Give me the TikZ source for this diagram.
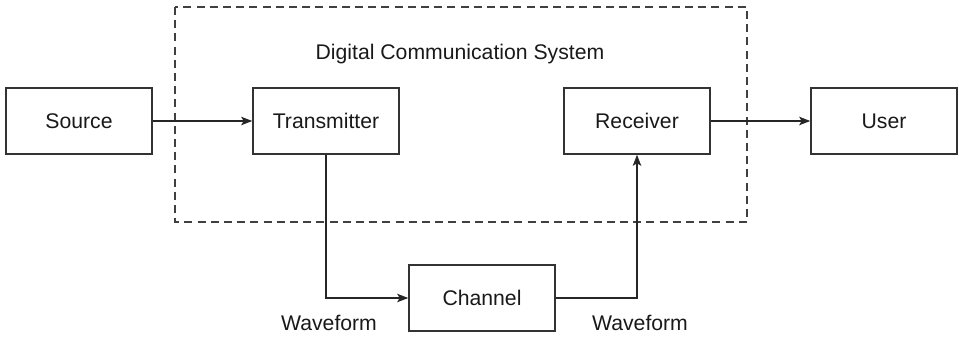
\documentclass[tikz,border=0pt]{standalone}
\usepackage{fontspec}
\setmainfont{Liberation Sans}
\usetikzlibrary{arrows.meta}
\tikzset{
	block/.style={draw=black!80, line width=0.75pt, minimum width=73pt, minimum height=33pt, inner sep=0pt, font=\fontsize{10.6}{12}\selectfont, text=black!90},
	label/.style={font=\fontsize{10.6}{12}\selectfont, text=black!90, inner sep=0pt},
	conn/.style={draw=black!85, line width=0.7pt, -{Stealth[length=5.5pt,width=4.2pt,inset=1.2pt]}},
	sysbox/.style={draw=black!75, line width=0.6pt, dash pattern=on 4pt off 2.6pt}
}
\begin{document}
\begin{tikzpicture}[x=0.5pt, y=-0.5pt]
		%%%%% START %%%%%
		\useasboundingbox (0, 0) rectangle (959, 337);
		
		\draw[sysbox] (175, 7) rectangle (747, 222);
		\node[label] (title) at (460, 54) {Digital Communication System};
		
		\node[block] (src) at (79, 121) {Source};
		\node[block] (tx) at (326, 121) {Transmitter};
		\node[block] (rx) at (637, 121) {Receiver};
		\node[block] (usr) at (884, 121) {User};
		\node[block] (ch) at (482, 298) {Channel};
		
		\node[label] (wfin) at (329, 323) {Waveform};
		\node[label] (wfout) at (640, 323) {Waveform};
		
		\draw[conn] (src) -- (tx);
		\draw[conn] (tx.south) |- (ch.west);
		\draw[conn] (ch.east) -| (rx.south);
		\draw[conn] (rx) -- (usr);
		
		%%%%% END %%%%%
	\end{tikzpicture}
\end{document}
